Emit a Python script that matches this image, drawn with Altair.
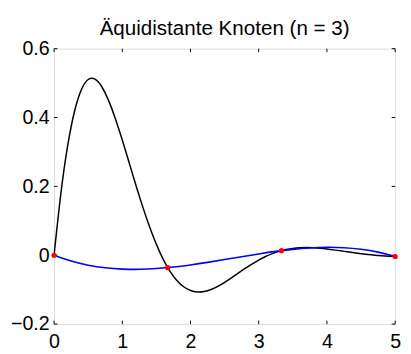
import altair as alt
import pandas as pd

# Black curve (function) sampled every 0.1
x_f = [0.0, 0.1, 0.2, 0.3, 0.4, 0.5, 0.6, 0.7, 0.8, 0.9,
       1.0, 1.1, 1.2, 1.3, 1.4, 1.5, 1.6, 1.7, 1.8, 1.9,
       2.0, 2.1, 2.2, 2.3, 2.4, 2.5, 2.6, 2.7, 2.8, 2.9,
       3.0, 3.1, 3.2, 3.3, 3.4, 3.5, 3.6, 3.7, 3.8, 3.9,
       4.0, 4.1, 4.2, 4.3, 4.4, 4.5, 4.6, 4.7, 4.8, 4.9, 5.0]
y_f = [0.0, 0.1798, 0.3188, 0.4183, 0.4809, 0.5104, 0.5115, 0.4894, 0.4491, 0.3959,
       0.3345, 0.2691, 0.2035, 0.1405, 0.0826, 0.0315, -0.0118, -0.0467, -0.0732, -0.0915,
       -0.1024, -0.1067, -0.1054, -0.0996, -0.0904, -0.0787, -0.0656, -0.0519, -0.0384, -0.0256,
       -0.0139, -0.0037, 0.0048, 0.0115, 0.0165, 0.0198, 0.0217, 0.0222, 0.0217, 0.0202,
       0.0181, 0.0156, 0.0128, 0.0100, 0.0072, 0.0046, 0.0022, 0.0002, -0.0014, -0.0027, -0.0037]

# Blue curve (interpolating polynomial) sampled every 0.25
x_p = [0.0, 0.25, 0.5, 0.75, 1.0, 1.25, 1.5, 1.75, 2.0, 2.25,
       2.5, 2.75, 3.0, 3.25, 3.5, 3.75, 4.0, 4.25, 4.5, 4.75, 5.0]
y_p = [0.0, -0.0168, -0.0288, -0.0365, -0.0403, -0.0409, -0.0387, -0.0343, -0.0281, -0.0207,
       -0.0125, -0.0041, 0.0039, 0.0112, 0.0171, 0.0212, 0.0230, 0.0219, 0.0174, 0.0091, -0.0037]

# Equidistant nodes
x_n = [0.0, 1.6667, 3.3333, 5.0]
y_n = [0.0, -0.0360, 0.0134, -0.0037]

x_ticks = [0, 1, 2, 3, 4, 5]
y_ticks = [-0.2, 0, 0.2, 0.4, 0.6]

W, H = 348, 281
FONT = "Liberation Sans"

xs = alt.Scale(domain=[0, 5], nice=False, zero=False)
ys = alt.Scale(domain=[-0.2, 0.6], nice=False, zero=False)

df_f = pd.DataFrame({"x": x_f, "y": y_f})
df_p = pd.DataFrame({"x": x_p, "y": y_p})
df_n = pd.DataFrame({"x": x_n, "y": y_n})
df_xt = pd.DataFrame({"v": x_ticks})
df_yt = pd.DataFrame({"v": y_ticks})

label_expr = "datum.value < 0 ? '\u2212' + format(-datum.value, '~g') : format(datum.value, '~g')"

xaxis = alt.Axis(values=x_ticks, title=None, labelFontSize=20, labelFont=FONT,
                 labelColor="black", ticks=False, tickSize=0, domain=False, grid=False,
                 labelPadding=8, labelFlush=False, labelExpr=label_expr)
yaxis = alt.Axis(values=y_ticks, title=None, labelFontSize=20, labelFont=FONT,
                 labelColor="black", ticks=False, tickSize=0, domain=False, grid=False,
                 labelPadding=5, labelExpr=label_expr, labelFlush=False)

black = alt.Chart(df_f).mark_line(color="black", strokeWidth=1.5, interpolate="natural").encode(
    x=alt.X("x:Q", scale=xs, axis=xaxis),
    y=alt.Y("y:Q", scale=ys, axis=yaxis),
)
blue = alt.Chart(df_p).mark_line(color="#0000ff", strokeWidth=1.6, interpolate="natural").encode(
    x=alt.X("x:Q", scale=xs),
    y=alt.Y("y:Q", scale=ys),
)
nodes = alt.Chart(df_n).mark_circle(color="#ff0000", size=28, opacity=1).encode(
    x=alt.X("x:Q", scale=xs),
    y=alt.Y("y:Q", scale=ys),
)

TL = 3.5
xt_bottom = alt.Chart(df_xt).mark_rule(color="black", strokeWidth=1).encode(
    x=alt.X("v:Q", scale=xs), y=alt.value(H), y2=alt.value(H - TL))
xt_top = alt.Chart(df_xt).mark_rule(color="black", strokeWidth=1).encode(
    x=alt.X("v:Q", scale=xs), y=alt.value(0), y2=alt.value(TL))
yt_left = alt.Chart(df_yt).mark_rule(color="black", strokeWidth=1).encode(
    y=alt.Y("v:Q", scale=ys), x=alt.value(0), x2=alt.value(TL))
yt_right = alt.Chart(df_yt).mark_rule(color="black", strokeWidth=1).encode(
    y=alt.Y("v:Q", scale=ys), x=alt.value(W), x2=alt.value(W - TL))

chart = alt.layer(xt_bottom, xt_top, yt_left, yt_right, black, blue, nodes).properties(
    width=W, height=H,
    title=alt.TitleParams("Äquidistante Knoten (n = 3)", font=FONT, fontSize=21,
                          fontWeight="normal", color="black", anchor="middle",
                          baseline="alphabetic", offset=-17),
    autosize=alt.AutoSizeParams(type="none"),
    padding={"left": 47, "top": 38, "right": 8, "bottom": 27},
).configure_view(stroke="black", strokeWidth=1).configure(background="white")

chart.save("out.html", embed_options={"renderer": "svg", "actions": False})
